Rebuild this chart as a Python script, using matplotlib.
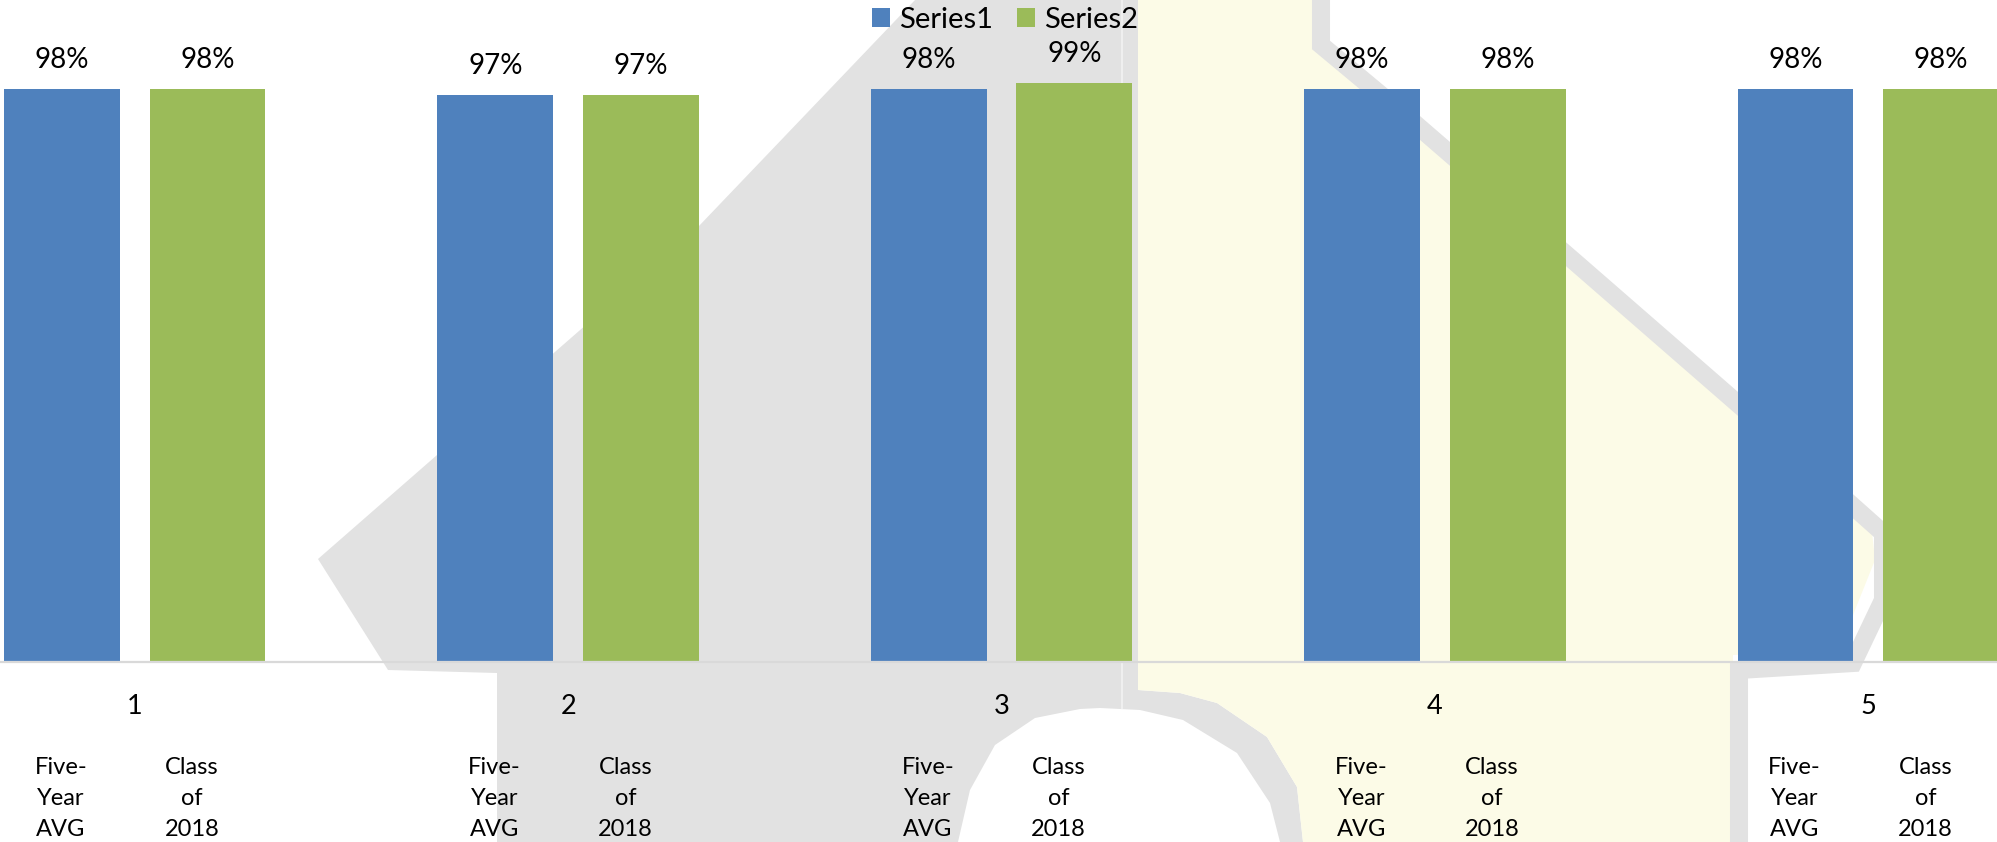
import numpy as np
import matplotlib.pyplot as plt
from matplotlib.patches import Polygon

categories = ["1", "2", "3", "4", "5"]
series_names = ["Series1", "Series2"]
series1 = [98, 97, 98, 98, 98]
series2 = [98, 97, 99, 98, 98]
sub_labels1 = ["Five-", "Year", "AVG"]
sub_labels2 = ["Class", "of", "2018"]

blue = "#4f81bd"
green = "#9bbb59"
wm_grey = "#e2e2e2"
wm_yellow = "#fcfbe7"

plt.rcParams['font.family'] = ['Lato', 'DejaVu Sans']

W, H = 1997, 842
base_px = 662  # pixel row of the category axis
fig = plt.figure(figsize=(W / 100, H / 100), dpi=100)

# faded map watermark behind the chart (pixel coords, y down)
bg = fig.add_axes([0, 0, 1, 1])
bg.set_xlim(0, W)
bg.set_ylim(H, 0)
bg.axis('off')

ring = [(1138, 690), (1180, 693), (1217, 703), (1267, 737), (1297, 787), (1303, 842)]
grey_shape = [(318, 559), (698, 227), (915, 0), (1138, 0)] + ring + \
             [(497, 842), (497, 673), (388, 670)]
yellow_shape = [(1138, 0), (1312, 0), (1312, 45), (1400, 115), (1570, 265), (1740, 415),
                (1872, 532), (1875, 560), (1855, 610), (1840, 650), (1733, 655),
                (1733, 842)] + ring[::-1]
white_blob = [(958, 842), (970, 790), (995, 745), (1035, 718), (1080, 709), (1100, 708),
              (1140, 710), (1183, 720), (1237, 753), (1270, 803), (1280, 842)]
bg.add_patch(Polygon(grey_shape, closed=True, fc=wm_grey, ec='none'))
bg.add_patch(Polygon(yellow_shape, closed=True, fc=wm_yellow, ec='none'))
bg.add_patch(Polygon(white_blob, closed=True, fc='white', ec='none'))
band = np.array([(1321, -5), (1321, 45), (1405, 115), (1575, 262), (1745, 410), (1883, 533),
                 (1883, 600), (1853, 663), (1739, 670), (1739, 850)])
bg.plot(band[:, 0], band[:, 1], color=wm_grey, lw=13, solid_joinstyle='miter')
bg.plot([1122, 1122], [0, 708], color='#efefef', lw=1.5)

# main chart
ax = fig.add_axes([0, (H - base_px) / H, 1, base_px / H])
ax.patch.set_alpha(0)

x = np.arange(len(categories))
w = 0.267
off = 0.168
b1 = ax.bar(x - off, series1, w, color=blue)
b2 = ax.bar(x + off, series2, w, color=green)

for bars, vals in [(b1, series1), (b2, series2)]:
    for bar, v in zip(bars, vals):
        ax.annotate(f"{v}%", (bar.get_x() + bar.get_width() / 2, v),
                    xytext=(0, 21), textcoords='offset pixels',
                    ha='center', va='baseline', fontsize=20)

ax.set_xlim(-0.311, 4.297)
ax.set_ylim(0, base_px / 5.85)
ax.set_xticks([])
ax.set_yticks([])
for s in ['top', 'left', 'right']:
    ax.spines[s].set_visible(False)
ax.spines['bottom'].set_color('#d9d9d9')
ax.spines['bottom'].set_linewidth(1.6)

def frac(py):
    return (base_px - py) / base_px

tr = ax.get_xaxis_transform()
for i, cat in enumerate(categories):
    ax.text(i, frac(707), cat, transform=tr, ha='center', va='center', fontsize=19.5)
    for k, (t1, t2) in enumerate(zip(sub_labels1, sub_labels2)):
        yy = frac(767 + 31.5 * k)
        ax.text(i - 0.17, yy, t1, transform=tr, ha='center', va='center', fontsize=17)
        ax.text(i + 0.132, yy, t2, transform=tr, ha='center', va='center', fontsize=17)

fig.legend(handles=[b1, b2], labels=series_names, loc='center',
           bbox_to_anchor=(1005 / W, 1 - 20 / H), ncol=2, frameon=False, fontsize=21,
           handlelength=0.62, handleheight=0.62, handletextpad=0.3, columnspacing=0.85,
           borderpad=0)

fig.savefig('out.png', dpi=100)
